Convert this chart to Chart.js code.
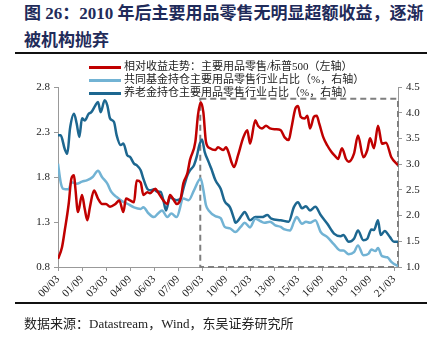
<!DOCTYPE html>
<html>
<head>
<meta charset="utf-8">
<script src="https://cdn.jsdelivr.net/npm/chart.js@4"></script>
<style>
  body { margin: 0; background: #fff; }
  #wrap { position: relative; width: 436px; height: 339px; overflow: hidden; }
  #chart { position: absolute; left: 0; top: 0; }
  .title {
    position: absolute; left: 24px; top: 0px; width: 410px;
    font: bold 17px "Liberation Serif", "Noto Sans CJK SC", serif;
    color: #1f2b5a; line-height: 27px;
  }
  .rule { position: absolute; left: 15px; width: 412px; height: 2px; background: #111; }
  .legend { position: absolute; left: 89px; top: 60px; font: 11px "Liberation Serif", "Noto Sans CJK SC", serif; color: #222; }
  .legend div { height: 13px; line-height: 13px; white-space: nowrap; }
  .legend span { display: inline-block; width: 32px; height: 3px; vertical-align: middle; margin-right: 3px; }
  .source { position: absolute; left: 24px; top: 313px; font: 13px "Liberation Serif", "Noto Sans CJK SC", serif; color: #222; }
</style>
</head>
<body>
<div id="wrap">
  <div class="title">图 26：2010 年后主要用品零售无明显超额收益，逐渐<br>被机构抛弃</div>
  <div class="rule" style="top:52px"></div>
  <canvas id="chart" width="436" height="339"></canvas>
  <div class="legend" id="legend"></div>
  <div class="rule" style="top:302px"></div>
  <div class="source">数据来源：Datastream，Wind，东吴证券研究所</div>
</div>
<script>
// x = months counted from 2000/01 (00/03 -> 2)
const tickLabels = ["00/03", "01/09", "03/03", "04/09", "06/03", "07/09", "09/03", "10/09",
  "12/03", "13/09", "15/03", "16/09", "18/03", "19/09", "21/03"];
const leftTicks = [0.8, 1.3, 1.8, 2.3, 2.8];
const rightTicks = [1.0, 1.5, 2.0, 2.5, 3.0, 3.5, 4.0, 4.5];

const seriesNames = [
  "相对收益走势：主要用品零售/标普500（左轴）",
  "共同基金持仓主要用品零售行业占比（%，右轴）",
  "养老金持仓主要用品零售行业占比（%，右轴）"
];

// relative return, left axis
const relMonths = [2, 5, 7, 10, 12, 14, 15, 17, 20, 22, 24, 26, 29, 32, 35, 38, 41, 45, 48, 51,
  53, 56, 59, 61, 64, 66, 69, 71, 75, 77, 81, 84, 86, 89, 91, 94, 96, 99, 101, 105,
  107, 109, 111, 113, 116, 120, 122, 126, 128, 130, 132, 134, 137, 141, 144, 146, 150, 152, 155, 158,
  161, 165, 169, 172, 175, 177, 180, 182, 184, 187, 189, 191, 194, 196, 198, 201, 204, 207, 210, 212,
  215, 218, 220, 224, 227, 231, 234, 236, 239, 242, 245, 248, 252, 257];
const relValues = [0.89, 1.02, 1.2, 1.5, 1.78, 1.82, 1.68, 1.41, 1.6, 1.45, 1.32, 1.47, 1.65, 1.56, 1.5, 1.5, 1.47, 1.5, 1.54, 1.41,
  1.56, 1.54, 1.52, 1.76, 1.74, 1.6, 1.63, 1.62, 1.67, 1.63, 1.54, 1.5, 1.6, 1.54, 1.5, 1.56, 1.73, 1.84, 1.99, 2.19,
  2.49, 2.63, 2.52, 2.19, 2.12, 2.1, 2.13, 2.1, 2.13, 2.07, 1.97, 1.91, 2.04, 2.24, 2.32, 2.17, 2.43, 2.37, 2.34, 2.37,
  2.34, 2.33, 2.32, 2.24, 2.21, 2.34, 2.56, 2.59, 2.47, 2.45, 2.48, 2.34, 2.47, 2.48, 2.39, 2.24, 2.15, 2.08, 2.03, 2.0,
  2.12, 2.0, 1.97, 2.06, 2.26, 2.02, 2.1, 2.23, 2.12, 2.37, 2.17, 2.18, 2.02, 1.93];

// mutual fund holdings share, right axis
const fundMonths = [2, 4, 6, 10, 12, 16, 20, 24, 28, 32, 35, 39, 42, 46, 50, 54, 59, 64, 66, 70,
  74, 77, 80, 84, 87, 91, 96, 100, 104, 109, 111, 113, 115, 120, 124, 127, 131, 135, 139, 142,
  146, 150, 154, 157, 161, 165, 169, 172, 176, 179, 181, 185, 188, 191, 195, 199, 204, 209, 214, 216,
  220, 224, 227, 231, 235, 237, 240, 242, 245, 249, 252, 256, 257];
const fundValues = [3.01, 2.65, 2.52, 2.51, 2.65, 2.62, 2.66, 2.69, 2.75, 2.87, 2.75, 2.62, 2.46, 2.36, 2.28, 2.23, 2.16, 2.13, 2.16, 2.04,
  1.97, 2.04, 2.1, 1.97, 2.04, 1.97, 2.33, 2.3, 2.49, 2.72, 2.5, 2.2, 2.1, 1.99, 1.95, 1.78, 1.75, 1.68, 1.78, 1.86,
  1.77, 1.94, 1.89, 1.86, 1.88, 1.81, 1.78, 1.73, 1.71, 1.88, 1.97, 1.84, 1.88, 1.86, 1.91, 1.68, 1.58, 1.44, 1.32, 1.32,
  1.25, 1.29, 1.42, 1.23, 1.26, 1.34, 1.31, 1.37, 1.21, 1.19, 1.1, 1.03, 1.02];

// pension fund holdings share, right axis
const pensionMonths = [2, 4, 7, 9, 11, 14, 16, 18, 20, 22, 25, 27, 30, 32, 34, 37, 39, 41, 44, 46,
  49, 51, 54, 56, 59, 61, 64, 66, 69, 71, 74, 76, 79, 81, 83, 86, 88, 91, 94, 96,
  99, 101, 104, 106, 108, 110, 112, 115, 117, 120, 124, 127, 131, 134, 135, 140, 142, 146, 150, 155,
  159, 162, 169, 175, 179, 182, 185, 188, 191, 195, 199, 204, 209, 214, 216, 220, 224, 227, 231, 234,
  237, 239, 242, 244, 247, 251, 254, 257];
const pensionValues = [3.56, 3.56, 3.3, 3.2, 3.69, 3.98, 3.79, 3.53, 3.89, 3.85, 3.98, 4.01, 4.14, 4.21, 4.01, 4.24, 4.14, 3.89, 3.82, 3.56,
  3.37, 3.4, 3.17, 3.14, 3.01, 2.98, 2.88, 2.72, 2.52, 2.49, 2.51, 2.47, 2.46, 2.3, 2.1, 2.36, 2.33, 2.3, 2.33, 2.52,
  2.78, 2.88, 2.98, 3.14, 3.37, 3.48, 3.24, 3.04, 2.91, 2.69, 2.52, 2.28, 2.16, 1.94, 1.86, 2.01, 2.07, 1.91, 1.97, 1.97,
  2.01, 1.94, 1.91, 1.88, 2.17, 2.26, 2.14, 2.18, 2.1, 2.17, 2.01, 1.84, 1.65, 1.6, 1.62, 1.49, 1.55, 1.71, 1.52, 1.55,
  1.73, 1.72, 1.91, 1.62, 1.7, 1.58, 1.49, 1.49];

const colors = ["#c00000", "#72b3d4", "#1d6790"];

// dashed highlight box (x in months, y on left axis)
const boxFrom = 108.7;
const boxTo = 257;
const boxTop = 2.67;
const boxBottom = 0.8;

const toPoints = (xs, ys) => xs.map((x, i) => ({ x: x, y: ys[i] }));

document.querySelector("#legend").innerHTML = seriesNames
  .map((name, i) => `<div><span style="background:${colors[i]}"></span>${name}</div>`)
  .join("");

const dashedBox = {
  id: "dashedBox",
  beforeDatasetsDraw(chart) {
    const { ctx, scales } = chart;
    const x1 = scales.x.getPixelForValue(boxFrom);
    const x2 = scales.x.getPixelForValue(boxTo);
    const y1 = scales.y.getPixelForValue(boxTop);
    const y2 = scales.y.getPixelForValue(boxBottom);
    ctx.save();
    ctx.strokeStyle = "#7f7f7f";
    ctx.lineWidth = 2;
    ctx.setLineDash([6, 4]);
    ctx.strokeRect(x1, y1, x2 - x1, y2 - y1);
    ctx.restore();
  },
};

const tickFont = { family: "'Liberation Serif', serif", size: 11 };

new Chart(document.querySelector("#chart"), {
  type: "line",
  data: {
    datasets: [
      { label: seriesNames[0], data: toPoints(relMonths, relValues), yAxisID: "y", borderColor: colors[0] },
      { label: seriesNames[1], data: toPoints(fundMonths, fundValues), yAxisID: "y1", borderColor: colors[1] },
      { label: seriesNames[2], data: toPoints(pensionMonths, pensionValues), yAxisID: "y1", borderColor: colors[2] },
    ],
  },
  options: {
    responsive: false,
    animation: false,
    layout: { padding: { top: 87, bottom: 36, left: 0, right: 0 } },
    elements: {
      point: { radius: 0 },
      line: { borderWidth: 2.5, tension: 0.4, cubicInterpolationMode: "monotone" },
    },
    plugins: { legend: { display: false }, tooltip: { enabled: false } },
    scales: {
      x: {
        type: "linear",
        min: 2,
        max: 257,
        afterBuildTicks: (scale) => {
          scale.ticks = tickLabels.map((_, i) => ({ value: 2 + 18 * i }));
        },
        afterFit: (scale) => { scale.height = 36; },
        ticks: {
          autoSkip: false,
          maxRotation: 45,
          minRotation: 45,
          padding: 2,
          color: "#222",
          font: tickFont,
          callback: (value) => tickLabels[(value - 2) / 18],
        },
        grid: { drawOnChartArea: false, tickLength: 4, color: "#999" },
        border: { color: "#999" },
      },
      y: {
        position: "left",
        min: 0.8,
        max: 2.8,
        afterBuildTicks: (scale) => { scale.ticks = leftTicks.map((v) => ({ value: v })); },
        afterFit: (scale) => { scale.width = 58; },
        ticks: { color: "#222", font: tickFont, padding: 4, callback: (v) => v.toFixed(1) },
        grid: { drawOnChartArea: false, tickLength: 4, color: "#999" },
        border: { color: "#999" },
      },
      y1: {
        position: "right",
        min: 1.0,
        max: 4.5,
        afterBuildTicks: (scale) => { scale.ticks = rightTicks.map((v) => ({ value: v })); },
        afterFit: (scale) => { scale.width = 38; },
        ticks: { color: "#222", font: tickFont, padding: 4, callback: (v) => v.toFixed(1) },
        grid: { drawOnChartArea: false, tickLength: 4, color: "#999" },
        border: { color: "#999" },
      },
    },
  },
  plugins: [dashedBox],
});
</script>
</body>
</html>
